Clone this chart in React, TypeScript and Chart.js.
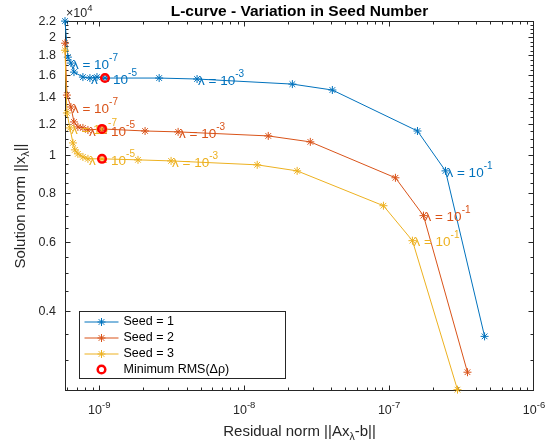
import React, { useEffect, useRef } from "react";
import { Chart, registerables } from "chart.js";

Chart.register(...registerables);

const FONT = "'Liberation Sans', Arial, Helvetica, sans-serif";
const AXIS_COLOR = "#262626";

// ---- data ----
const seed1X = [5.8e-10, 6.07e-10, 6.37e-10, 6.69e-10, 7.71e-10, 8.62e-10, 9.64e-10, 1.095e-9, 2.59e-9, 4.73e-9, 2.15e-8, 4.06e-8, 1.57e-7, 2.45e-7, 4.56e-7];
const seed1Y = [22000, 17800, 17190, 16300, 15830, 15740, 15830, 15740, 15740, 15650, 15190, 14670, 11530, 9120, 3447];
const seed1LabelIdx = [2, 5, 9, 13];

const seed2X = [5.8e-10, 5.98e-10, 6.37e-10, 6.69e-10, 7.12e-10, 7.71e-10, 8.35e-10, 1.044e-9, 2.07e-9, 3.5e-9, 1.466e-8, 2.86e-8, 1.106e-7, 1.727e-7, 3.475e-7];
const seed2Y = [19320, 14240, 13280, 12160, 11810, 11740, 11600, 11670, 11530, 11470, 11200, 10815, 8757, 7010, 2792];
const seed2LabelIdx = [2, 6, 9, 13];

const seed3X = [5.8e-10, 5.98e-10, 6.27e-10, 6.58e-10, 6.79e-10, 7.12e-10, 7.71e-10, 8.35e-10, 1.044e-9, 1.85e-9, 3.13e-9, 1.23e-8, 2.32e-8, 9.14e-8, 1.449e-7, 2.965e-7];
const seed3Y = [18540, 12820, 11740, 10750, 10320, 10080, 9900, 9790, 9790, 9730, 9670, 9450, 9120, 7430, 6050, 2520];
const seed3LabelIdx = [2, 7, 10, 14];

const minRmsX = [1.095e-9, 1.044e-9, 1.044e-9];
const minRmsY = [15740, 11670, 9790];

const lambdaExponents = ["-7", "-5", "-3", "-1"];

const seriesNames = ["Seed = 1", "Seed = 2", "Seed = 3"];
const seriesColors = ["#0072BD", "#D95319", "#EDB120"];
const minRmsName = "Minimum RMS(Δρ)";

const xMin = 5.8e-10;
const xMax = 1e-6;
const yMin = 2500;
const yMax = 22000;
const xMajorTicks = [1e-9, 1e-8, 1e-7, 1e-6];
const xTickExponents = ["-9", "-8", "-7", "-6"];
const yMajorTicks = [4000, 6000, 8000, 10000, 12000, 14000, 16000, 18000, 20000, 22000];
const yTickLabels = ["0.4", "0.6", "0.8", "1", "1.2", "1.4", "1.6", "1.8", "2", "2.2"];
const yMinorStep = 500;

const titleText = "L-curve - Variation in Seed Number";

// ---- helpers ----
type Part = { t: string; size: number; dy: number; weight?: string };

function drawParts(ctx: CanvasRenderingContext2D, parts: Part[], x: number, y: number, align: string, color: string) {
  const widths = parts.map((p) => {
    ctx.font = `${p.weight || "normal"} ${p.size}px ${FONT}`;
    return ctx.measureText(p.t).width;
  });
  const total = widths.reduce((a, b) => a + b, 0);
  let cx = align === "center" ? x - total / 2 : align === "right" ? x - total : x;
  ctx.fillStyle = color;
  ctx.textBaseline = "middle";
  ctx.textAlign = "left";
  parts.forEach((p, i) => {
    ctx.font = `${p.weight || "normal"} ${p.size}px ${FONT}`;
    ctx.fillText(p.t, cx, y + p.dy);
    cx += widths[i];
  });
}

function buildXTicks() {
  const out: { value: number; major: boolean }[] = [];
  for (let e = -10; e <= -6; e++) {
    for (let m = 1; m <= 9; m++) {
      const v = Number((m * Math.pow(10, e)).toPrecision(6));
      if (v < xMin || v > xMax) continue;
      out.push({ value: v, major: m === 1 });
    }
  }
  return out;
}

function buildYTicks() {
  const out: { value: number; major: boolean }[] = [];
  for (let v = yMin + yMinorStep; v <= yMax; v += yMinorStep) {
    out.push({ value: v, major: yMajorTicks.includes(v) });
  }
  return out;
}

const axesPlugin = {
  id: "matlabAxes",
  beforeDatasetsDraw(chart: any) {
    const { ctx, chartArea: a, scales } = chart;
    const xs = scales.x;
    const ys = scales.y;
    const L = Math.round(a.left) + 0.5;
    const R = Math.round(a.right) - 0.5;
    const T = Math.round(a.top) + 0.5;
    const B = Math.round(a.bottom) - 0.5;
    ctx.save();
    ctx.strokeStyle = AXIS_COLOR;
    ctx.lineWidth = 1;
    ctx.strokeRect(L, T, R - L, B - T);
    ctx.beginPath();
    xs.ticks.forEach((t: any) => {
      const px = Math.round(xs.getPixelForValue(t.value)) + 0.5;
      if (px <= L || px >= R + 0.6) return;
      const len = t.major ? 5 : 3;
      ctx.moveTo(px, B);
      ctx.lineTo(px, B - len);
      ctx.moveTo(px, T);
      ctx.lineTo(px, T + len);
    });
    ys.ticks.forEach((t: any) => {
      const py = Math.round(ys.getPixelForValue(t.value)) + 0.5;
      const len = t.major ? 5 : 3;
      ctx.moveTo(L, py);
      ctx.lineTo(L + len, py);
      ctx.moveTo(R, py);
      ctx.lineTo(R - len, py);
    });
    ctx.stroke();

    // tick labels
    xMajorTicks.forEach((v, i) => {
      const px = xs.getPixelForValue(v);
      drawParts(ctx, [
        { t: "10", size: 12.5, dy: 0 },
        { t: xTickExponents[i], size: 9.5, dy: -6 },
      ], px, a.bottom + 20, "center", AXIS_COLOR);
    });
    yMajorTicks.forEach((v, i) => {
      const py = ys.getPixelForValue(v);
      drawParts(ctx, [{ t: yTickLabels[i], size: 12.5, dy: 0 }], a.left - 9, py, "right", AXIS_COLOR);
    });
    // exponent marker
    drawParts(ctx, [
      { t: "×10", size: 12.5, dy: 0 },
      { t: "4", size: 9.5, dy: -5 },
    ], a.left + 1, a.top - 8, "left", AXIS_COLOR);

    // axis titles
    drawParts(ctx, [
      { t: "Residual norm ||Ax", size: 15, dy: 0 },
      { t: "λ", size: 10.5, dy: 5 },
      { t: "-b||", size: 15, dy: 0 },
    ], (a.left + a.right) / 2, a.bottom + 41, "center", AXIS_COLOR);

    ctx.translate(21, (a.top + a.bottom) / 2);
    ctx.rotate(-Math.PI / 2);
    drawParts(ctx, [
      { t: "Solution norm ||x", size: 15, dy: 0 },
      { t: "λ", size: 10.5, dy: 5 },
      { t: "||", size: 15, dy: 0 },
    ], 0, 0, "center", AXIS_COLOR);
    ctx.restore();
  },
  afterDatasetDraw(chart: any, args: any) {
    const ds: any = chart.data.datasets[args.index];
    if (!ds.lambdaIdx) return;
    const { ctx } = chart;
    ctx.save();
    ds.lambdaIdx.forEach((idx: number, k: number) => {
      const el = args.meta.data[idx];
      if (!el) return;
      drawParts(ctx, [
        { t: "λ = 10", size: 13.5, dy: 2 },
        { t: lambdaExponents[k], size: 10, dy: -5 },
      ], el.x + 1, el.y, "left", ds.borderColor);
    });
    ctx.restore();
  },
  afterDraw(chart: any) {
    const { ctx, chartArea: a } = chart;
    ctx.save();
    const bx = Math.round(a.left) + 14 + 0.5;
    const by = Math.round(a.bottom) - 80 + 0.5;
    const bw = 206;
    const bh = 67;
    ctx.fillStyle = "#ffffff";
    ctx.fillRect(bx, by, bw, bh);
    ctx.strokeStyle = AXIS_COLOR;
    ctx.lineWidth = 1;
    ctx.strokeRect(bx, by, bw, bh);
    const rows = [by + 10.5, by + 26.5, by + 42.5, by + 58];
    const datasets = chart.data.datasets;
    for (let i = 0; i < 3; i++) {
      const ds: any = datasets[i];
      const y = rows[i];
      ctx.strokeStyle = ds.borderColor;
      ctx.lineWidth = 1;
      ctx.beginPath();
      ctx.moveTo(bx + 5, y);
      ctx.lineTo(bx + 39, y);
      ctx.stroke();
      // star marker
      const cx = bx + 22;
      const r = 4;
      ctx.beginPath();
      ctx.moveTo(cx - r, y); ctx.lineTo(cx + r, y);
      ctx.moveTo(cx, y - r); ctx.lineTo(cx, y + r);
      const d = r * Math.SQRT1_2;
      ctx.moveTo(cx - d, y - d); ctx.lineTo(cx + d, y + d);
      ctx.moveTo(cx - d, y + d); ctx.lineTo(cx + d, y - d);
      ctx.stroke();
      drawParts(ctx, [{ t: ds.label, size: 12.5, dy: 0 }], bx + 44, y, "left", "#000");
    }
    const cds: any = datasets[3];
    ctx.strokeStyle = cds.borderColor;
    ctx.lineWidth = 2.5;
    ctx.beginPath();
    ctx.arc(bx + 22, rows[3], 3.8, 0, Math.PI * 2);
    ctx.stroke();
    drawParts(ctx, [{ t: cds.label, size: 12.5, dy: 0 }], bx + 44, rows[3], "left", "#000");
    ctx.restore();
  },
};

function toPoints(xs: number[], ys: number[]) {
  return xs.map((x, i) => ({ x, y: ys[i] }));
}

export default function App() {
  const canvasRef = useRef<HTMLCanvasElement | null>(null);

  useEffect(() => {
    const canvas = canvasRef.current;
    if (!canvas) return;
    const seriesX = [seed1X, seed2X, seed3X];
    const seriesY = [seed1Y, seed2Y, seed3Y];
    const labelIdx = [seed1LabelIdx, seed2LabelIdx, seed3LabelIdx];
    const datasets: any[] = seriesNames.map((name, i) => ({
      label: name,
      data: toPoints(seriesX[i], seriesY[i]),
      showLine: true,
      borderColor: seriesColors[i],
      backgroundColor: seriesColors[i],
      borderWidth: 1,
      pointStyle: "star",
      pointRadius: 4,
      pointBorderWidth: 1,
      tension: 0,
      clip: false,
      order: 3 - i,
      lambdaIdx: labelIdx[i],
    }));
    datasets.push({
      label: minRmsName,
      data: toPoints(minRmsX, minRmsY),
      showLine: false,
      borderColor: "#FF0000",
      backgroundColor: "rgba(0,0,0,0)",
      pointStyle: "circle",
      pointRadius: 3.8,
      pointBorderWidth: 2.5,
      clip: false,
      order: 0,
    });

    const chart = new Chart(canvas, {
      type: "scatter",
      data: { datasets },
      options: {
        responsive: false,
        animation: false,
        devicePixelRatio: 1,
        layout: { padding: { left: 0, right: 20, top: 0, bottom: 0 } },
        plugins: {
          legend: { display: false },
          tooltip: { enabled: false },
          title: {
            display: true,
            text: titleText,
            fullSize: false,
            color: "#000",
            font: { family: FONT, size: 15.5, weight: "bold" },
            padding: { top: 2.5, bottom: 0 },
          },
        },
        scales: {
          x: {
            type: "logarithmic",
            min: xMin,
            max: xMax,
            grid: { display: false },
            border: { display: false },
            ticks: { display: false },
            afterBuildTicks: (s: any) => { s.ticks = buildXTicks(); },
            afterFit: (s: any) => { s.height = 56; },
          },
          y: {
            type: "logarithmic",
            min: yMin,
            max: yMax,
            grid: { display: false },
            border: { display: false },
            ticks: { display: false },
            afterBuildTicks: (s: any) => { s.ticks = buildYTicks(); },
            afterFit: (s: any) => { s.width = 65; },
          },
        },
      } as any,
      plugins: [axesPlugin as any],
    });
    return () => chart.destroy();
  }, []);

  return (
    <div style={{ position: "fixed", left: 0, top: 0, width: 554, height: 447, background: "#fff" }}>
      <canvas ref={canvasRef} width={554} height={447} style={{ display: "block", width: 554, height: 447 }} />
    </div>
  );
}
